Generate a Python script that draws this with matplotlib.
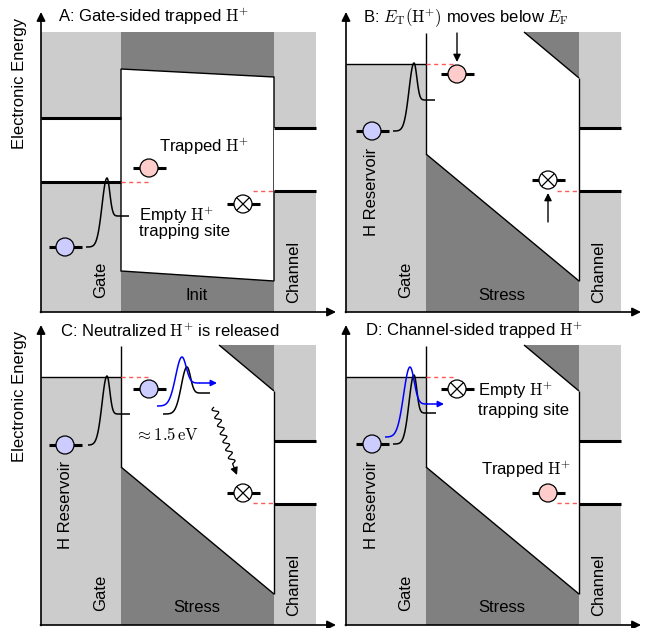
import numpy as np
import matplotlib
matplotlib.use('Agg')
import matplotlib.pyplot as plt
from matplotlib.patches import Polygon, Rectangle, Circle

plt.rcParams['font.family'] = ['Liberation Sans', 'DejaVu Sans']
plt.rcParams['mathtext.fontset'] = 'cm'

# ---------------- data (panel-local pixel frame) ----------------
panel_ids = ['A', 'B', 'C', 'D']
panel_dx = [0, 305, 0, 305]
panel_dy = [0, 0, 313, 313]
titles = ['A: Gate-sided trapped $\\mathrm{H}^{+}$',
          'B: $E_\\mathrm{T}(\\mathrm{H}^{+})$ moves below $E_\\mathrm{F}$',
          'C: Neutralized $\\mathrm{H}^{+}$ is released',
          'D: Channel-sided trapped $\\mathrm{H}^{+}$']
title_pos = [(58, 22), (58, 22), (60, 24), (60, 23)]
oxide_labels = ['Init', 'Stress', 'Stress', 'Stress']
show_ylabel = [True, False, True, False]
show_reservoir = [False, True, True, True]

gate_x = [41, 121]
oxide_x = [121, 274]
channel_x = [274, 316]
region_top = 32
region_bottom = 312

# panel A band diagram
a_gate_levels = [118, 182]
a_oxide_y = [69, 77, 281, 271]   # TL, TR, BR, BL
channel_levels = [128, 191]

# panels B-D band diagram
bcd_gate_fermi = 64
bcd_barrier_top = 33
bcd_vb = [154, 281]
bcd_cb_start_x = 219
bcd_cb_end_y = 78

# trapping sites: (panel, kind, x, y)
sites = [('A', 'blue', 65, 247), ('A', 'pink', 149, 168), ('A', 'cross', 243, 204),
         ('B', 'pink', 152, 74), ('B', 'cross', 243, 180), ('B', 'blue', 67, 131),
         ('C', 'blue', 149, 76), ('C', 'blue', 65, 132), ('C', 'cross', 243, 180),
         ('D', 'cross', 152, 76), ('D', 'blue', 67, 131), ('D', 'pink', 243, 180)]

# red dashed alignment lines: (panel, x0, x1, y)
dashes = [('A', 121, 148, 182), ('A', 253, 274, 191),
          ('B', 121, 150, 64), ('B', 252, 274, 191),
          ('C', 121, 148, 64), ('C', 253, 274, 190),
          ('D', 121, 150, 64), ('D', 252, 274, 190)]

# barrier curves: (panel, color, x0, xpeak, x1, xend, y0, ypeak, y1, left width, right width, arrow)
curves = [('A', 'k', 86, 107, 119, 129, 247, 178, 216, 7, 4, False),
          ('B', 'k', 88, 109, 121, 130, 131, 63, 100, 7, 4, False),
          ('C', 'k', 88, 107, 121, 130, 132, 63, 101, 7, 4, False),
          ('C', 'k', 163, 187, 201, 210, 101, 54, 80, 8, 5, False),
          ('C', 'blue', 157, 182, 200, 217, 93, 44, 70, 9, 6, True),
          ('D', 'k', 88, 109, 122, 131, 131, 62, 100, 7, 4, False),
          ('D', 'blue', 80, 105, 123, 139, 124, 54, 91, 9, 6, True)]

# straight arrows (panel, x0, y0, x1, y1)
arrows = [('B', 152, 33, 152, 62), ('B', 243, 222, 243, 193)]

# annotation texts: (panel, text, x, last-line baseline y, line spacing)
notes = [('A', 'Trapped $\\mathrm{H}^{+}$', 159, 152, 1.0),
         ('A', 'Empty $\\mathrm{H}^{+}$\ntrapping site', 139, 236, 0.8),
         ('C', '$\\approx 1.5\\,\\mathrm{eV}$', 135, 127, 1.0),
         ('D', 'Empty $\\mathrm{H}^{+}$\ntrapping site', 173, 102, 1.15),
         ('D', 'Trapped $\\mathrm{H}^{+}$', 176, 162, 1.0)]

LIGHT = '#cccccc'
DARK = '#808080'
FILLS = {'blue': '#ccccff', 'pink': '#ffcccc', 'cross': 'white'}
RED = '#ff5a5a'
FS = 12

fig = plt.figure(figsize=(6.46, 6.28), dpi=100)
ax = fig.add_axes([0, 0, 1, 1])
ax.set_xlim(0, 646)
ax.set_ylim(628, 0)
ax.axis('off')


def rect(x0, x1, y0, y1, c, z=1):
    ax.add_patch(Rectangle((x0, y0), x1 - x0, y1 - y0, fc=c, ec='none', zorder=z))


def poly(pts, c, z=1, ec='none'):
    ax.add_patch(Polygon(pts, closed=True, fc=c, ec=ec, lw=1, zorder=z))


def line(xs, ys, lw=1.0, c='k', z=3, **kw):
    ax.plot(xs, ys, color=c, lw=lw, zorder=z, solid_capstyle='butt', **kw)


def arrow(x0, y0, x1, y1, c='k', lw=1.0, ms=12, z=4):
    ax.annotate('', xy=(x1, y1), xytext=(x0, y0),
                arrowprops=dict(arrowstyle='-|>', color=c, lw=lw, mutation_scale=ms,
                                shrinkA=0, shrinkB=0), zorder=z)


def barrier_points(x0, xp, x1, y0, yp, y1, sl=7.0, sr=4.0):
    xl = np.linspace(x0, xp, 60)
    ul = 1 - np.exp(-((xl - xp) / sl) ** 2)
    ul = ul / ul[0]
    yl = yp + (y0 - yp) * ul
    xr = np.linspace(xp, x1, 40)
    ur = 1 - np.exp(-((xr - xp) / sr) ** 2)
    ur = ur / ur[-1]
    yr = yp + (y1 - yp) * ur
    return np.concatenate([xl, xr[1:]]), np.concatenate([yl, yr[1:]])


for i, pid in enumerate(panel_ids):
    dx, dy = panel_dx[i], panel_dy[i]
    X = lambda v: v + dx
    Y = lambda v: v + dy
    # backgrounds
    if pid == 'A':
        rect(X(gate_x[0]), X(gate_x[1]), Y(region_top), Y(region_bottom), LIGHT)
        rect(X(gate_x[0]), X(gate_x[1]), Y(a_gate_levels[0]), Y(a_gate_levels[1]), 'white', 1.5)
        for lv in a_gate_levels:
            line([X(gate_x[0]), X(gate_x[1])], [Y(lv), Y(lv)], lw=2.2)
        rect(X(oxide_x[0]), X(oxide_x[1]), Y(region_top), Y(region_bottom), DARK)
        poly([(X(oxide_x[0]), Y(a_oxide_y[0])), (X(oxide_x[1]), Y(a_oxide_y[1])),
              (X(oxide_x[1]), Y(a_oxide_y[2])), (X(oxide_x[0]), Y(a_oxide_y[3]))],
             'white', 1.5, ec='k')
    else:
        rect(X(gate_x[0]), X(gate_x[1]), Y(bcd_gate_fermi), Y(region_bottom), LIGHT)
        line([X(gate_x[0]), X(gate_x[1])], [Y(bcd_gate_fermi)] * 2, lw=1.0)
        line([X(oxide_x[0])] * 2, [Y(bcd_barrier_top), Y(bcd_vb[0])], lw=1.0)
        poly([(X(oxide_x[0]), Y(bcd_vb[0])), (X(oxide_x[1]), Y(bcd_vb[1])),
              (X(oxide_x[1]), Y(region_bottom)), (X(oxide_x[0]), Y(region_bottom))], DARK)
        line([X(oxide_x[0]), X(oxide_x[1])], [Y(bcd_vb[0]), Y(bcd_vb[1])], lw=1.0)
        poly([(X(bcd_cb_start_x), Y(region_top)), (X(oxide_x[1]), Y(region_top)),
              (X(oxide_x[1]), Y(bcd_cb_end_y))], DARK)
        line([X(bcd_cb_start_x), X(oxide_x[1])], [Y(region_top), Y(bcd_cb_end_y)], lw=1.0)
        line([X(oxide_x[1])] * 2, [Y(bcd_cb_end_y), Y(bcd_vb[1])], lw=1.0)
    # channel
    rect(X(channel_x[0]), X(channel_x[1]), Y(region_top), Y(region_bottom), LIGHT)
    rect(X(channel_x[0]), X(channel_x[1]), Y(channel_levels[0]), Y(channel_levels[1]), 'white', 1.5)
    for lv in channel_levels:
        line([X(channel_x[0]), X(channel_x[1])], [Y(lv), Y(lv)], lw=2.2)
    # axes
    arrow(X(41), Y(region_bottom + 0.5), X(41), Y(12), lw=1.2, ms=13)
    arrow(X(40.4), Y(region_bottom), X(336), Y(region_bottom), lw=1.2, ms=13)
    # labels
    ax.text(X(title_pos[i][0]), Y(title_pos[i][1]), titles[i], fontsize=FS,
            ha='left', va='baseline', zorder=6)
    ax.text(X(101), Y(280), 'Gate', fontsize=FS, rotation=90, ha='center', va='center', zorder=6)
    ax.text(X(197), Y(295), oxide_labels[i], fontsize=FS, ha='center', va='center', zorder=6)
    ax.text(X(294), Y(272), 'Channel', fontsize=FS, rotation=90, ha='center', va='center', zorder=6)
    if show_ylabel[i]:
        ax.text(X(20), Y(83), 'Electronic Energy', fontsize=FS, rotation=90,
                ha='center', va='center', zorder=6)
    if show_reservoir[i]:
        ax.text(X(66), Y(192), 'H Reservoir', fontsize=FS, rotation=90,
                ha='center', va='center', zorder=6)

    for (p, x0, x1, y) in dashes:
        if p == pid:
            line([X(x0), X(x1)], [Y(y)] * 2, lw=1.0, c=RED, z=4, ls=(0, (3, 2.5)))
    for (p, c, x0, xp, x1, xe, y0, yp, y1, sl, sr, arr) in curves:
        if p == pid:
            xs, ys = barrier_points(x0, xp, x1, y0, yp, y1, sl, sr)
            lw = 1.1
            if arr:
                line(xs + dx, ys + dy, lw=lw, c=c, z=5)
                arrow(X(x1), Y(y1), X(xe), Y(y1), c=c, lw=lw, ms=9, z=5)
            else:
                line(np.append(xs, xe) + dx, np.append(ys, y1) + dy, lw=lw, c=c, z=5)
    for (p, kind, x, y) in sites:
        if p == pid:
            line([X(x - 16.5), X(x + 16.5)], [Y(y)] * 2, lw=2.2, z=5)
            ax.add_patch(Circle((X(x), Y(y)), 9, fc=FILLS[kind], ec='k', lw=0.9, zorder=6))
            if kind == 'cross':
                r = 9 * 0.707
                line([X(x - r), X(x + r)], [Y(y - r), Y(y + r)], lw=0.9, z=7)
                line([X(x - r), X(x + r)], [Y(y + r), Y(y - r)], lw=0.9, z=7)
    for (p, x0, y0, x1, y1) in arrows:
        if p == pid:
            arrow(X(x0), Y(y0), X(x1), Y(y1), lw=1.0, ms=11)
    for (p, t, x, y, ls) in notes:
        if p == pid:
            ax.text(X(x), Y(y), t, fontsize=FS, ha='left', va='baseline',
                    linespacing=ls, zorder=6)

    if pid == 'C':
        # wavy relaxation arrow
        p0 = np.array([214.0, 94.0]) + [dx, dy]
        p1 = np.array([237.0, 162.0]) + [dx, dy]
        d = p1 - p0
        L = np.hypot(*d)
        u = d / L
        nrm = np.array([-u[1], u[0]])
        t = np.linspace(0, L - 12, 300)
        amp = 2.8 * np.sin(2 * np.pi * t / 8.5)
        pts = p0 + np.outer(t, u) + np.outer(amp, nrm)
        line(pts[:, 0], pts[:, 1], lw=0.9, z=5)
        arrow(pts[-1, 0], pts[-1, 1], p1[0], p1[1], lw=0.9, ms=11, z=5)

fig.savefig('out.png', dpi=100)
